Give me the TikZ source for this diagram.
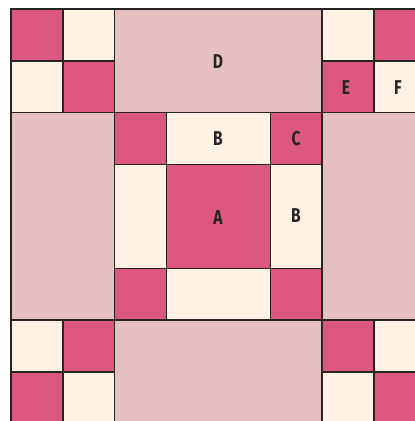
\documentclass[tikz,border=0pt]{standalone}
\usepackage{fontspec}
\newfontfamily\labfont[FakeStretch=0.78]{Fira Sans}
\definecolor{qpink}{RGB}{220,88,128}
\definecolor{qlight}{RGB}{228,192,194}
\definecolor{qcream}{RGB}{255,242,228}
\definecolor{qline}{RGB}{40,36,36}
\begin{document}
\begin{tikzpicture}[x=1pt,y=-1pt,
  pk/.style={fill=qpink,draw=qline,line width=1.5pt},
  lt/.style={fill=qlight,draw=qline,line width=1.5pt},
  cr/.style={fill=qcream,draw=qline,line width=1.5pt},
  lab/.style={font=\labfont\bfseries\fontsize{20}{20}\selectfont,text=qline,inner sep=0pt}]
\useasboundingbox (0,0) rectangle (415,421);
\fill[white] (0,0) rectangle (415,421);
\clip (0,0) rectangle (415,421);
\def\u{51.85}
\newcommand\patch[5]{\draw[#1] ({11+#2*\u},{9+#3*\u}) rectangle ++({#4*\u},{#5*\u});}
% large light patches
\patch{lt}{2}{0}{4}{2}
\patch{lt}{2}{6}{4}{2}
\patch{lt}{0}{2}{2}{4}
\patch{lt}{6}{2}{2}{4}
% corners
\patch{pk}{0}{0}{1}{1}\patch{cr}{1}{0}{1}{1}\patch{cr}{0}{1}{1}{1}\patch{pk}{1}{1}{1}{1}
\patch{cr}{6}{0}{1}{1}\patch{pk}{7}{0}{1}{1}\patch{pk}{6}{1}{1}{1}\patch{cr}{7}{1}{1}{1}
\patch{cr}{0}{6}{1}{1}\patch{pk}{1}{6}{1}{1}\patch{pk}{0}{7}{1}{1}\patch{cr}{1}{7}{1}{1}
\patch{pk}{6}{6}{1}{1}\patch{cr}{7}{6}{1}{1}\patch{cr}{6}{7}{1}{1}\patch{pk}{7}{7}{1}{1}
% centre
\patch{pk}{2}{2}{1}{1}\patch{cr}{3}{2}{2}{1}\patch{pk}{5}{2}{1}{1}
\patch{cr}{2}{3}{1}{2}\patch{pk}{3}{3}{2}{2}\patch{cr}{5}{3}{1}{2}
\patch{pk}{2}{5}{1}{1}\patch{cr}{3}{5}{2}{1}\patch{pk}{5}{5}{1}{1}
% labels
\node[lab] (lD) at (218,62) {D};
\node[lab] (lE) at (346,88) {E};
\node[lab] (lF) at (398,88) {F};
\node[lab] (lB1) at (218,139) {B};
\node[lab] (lC) at (296,139) {C};
\node[lab] (lA) at (218,218) {A};
\node[lab] (lB2) at (296,216) {B};
\end{tikzpicture}
\end{document}
